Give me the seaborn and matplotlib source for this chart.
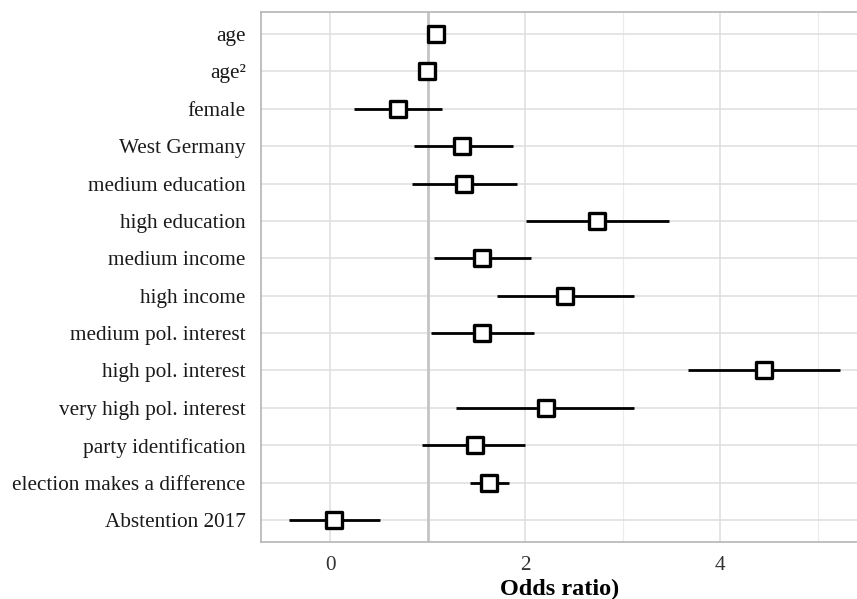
import numpy as np
import pandas as pd
import matplotlib
matplotlib.use("Agg")
import matplotlib.pyplot as plt
import seaborn as sns

terms = [
    "age", "age²", "female", "West Germany", "medium education",
    "high education", "medium income", "high income",
    "medium pol. interest", "high pol. interest", "very high pol. interest",
    "party identification", "election makes a difference", "Abstention 2017",
]
estimate = [1.08, 0.99, 0.69, 1.35, 1.37, 2.74, 1.56, 2.41, 1.56, 4.45, 2.21, 1.48, 1.63, 0.04]
ci_low = [1.05, 0.97, 0.24, 0.86, 0.84, 2.01, 1.06, 1.71, 1.03, 3.67, 1.29, 0.94, 1.43, -0.42]
ci_high = [1.11, 1.01, 1.15, 1.87, 1.92, 3.47, 2.06, 3.12, 2.09, 5.23, 3.12, 2.00, 1.83, 0.51]

df = pd.DataFrame({"term": terms, "estimate": estimate, "low": ci_low, "high": ci_high})
df["pos"] = np.arange(len(df))

sns.set_theme(style="white")
plt.rcParams["font.family"] = ["Liberation Serif", "DejaVu Serif"]

fig = plt.figure(figsize=(8.57, 5.99), dpi=100)
ax = fig.add_axes([261 / 857, 57 / 599, 1 - 261 / 857 + 0.002, 530 / 599])

grid_major = "#dedede"
grid_minor = "#ececec"
border = "#b5b5b5"

# grid: horizontal lines at each term, vertical majors and minors
for x in [0, 2, 4]:
    ax.axvline(x, color=grid_major, lw=1.1, zorder=0)
for x in [3, 5]:
    ax.axvline(x, color=grid_minor, lw=0.8, zorder=0)
for p in df["pos"]:
    ax.axhline(p, color=grid_major, lw=1.1, zorder=0)

# reference line at odds ratio 1
ax.axvline(1, color="#c4c4c4", lw=2.0, zorder=1)

# confidence intervals
ax.hlines(df["pos"], df["low"], df["high"], color="black", lw=2.0, zorder=2)

# point estimates
sns.scatterplot(data=df, x="estimate", y="pos", marker="s", s=130,
                facecolor="white", edgecolor="black", linewidth=2.4,
                zorder=3, ax=ax, legend=False)

ax.set_xlim(-0.71, 5.42)
ax.set_ylim(len(df) - 1 + 0.59, -0.59)
ax.set_yticks(df["pos"])
ax.set_yticklabels(df["term"], fontsize=15.3, color="#1a1a1a")
ax.set_xticks([0, 2, 4])
ax.set_xticklabels(["0", "2", "4"], fontsize=15.3, color="#333333")
ax.set_ylabel("")
ax.set_xlabel("Odds ratio)", fontsize=17.5, fontweight="bold", color="black", labelpad=3)

ax.tick_params(axis="y", length=7, width=1, color="#bdbdbd", pad=4)
ax.tick_params(axis="x", length=4, width=1, color="#bdbdbd", pad=6)
for side in ["top", "left", "bottom", "right"]:
    ax.spines[side].set_color(border)
    ax.spines[side].set_linewidth(1.2)

fig.savefig("out.png", dpi=100)
